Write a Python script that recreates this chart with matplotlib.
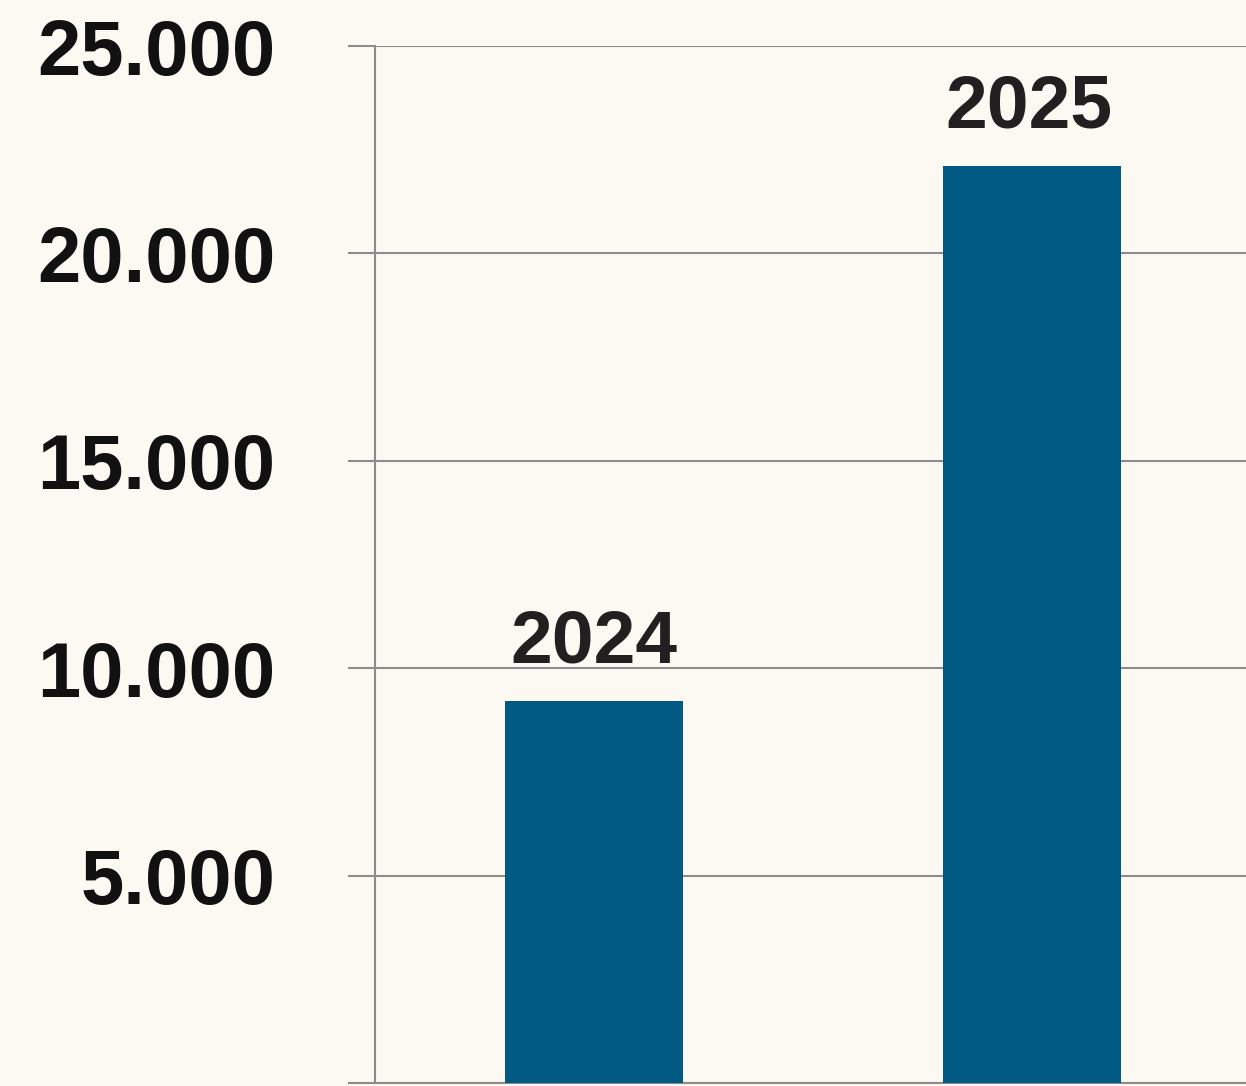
import matplotlib.pyplot as plt
from matplotlib.ticker import FuncFormatter

years = ['2024', '2025']
values = [9200, 22100]
yticks = [0, 5000, 10000, 15000, 20000, 25000]

bg = '#fbf9f2'
bar_col = '#005a84'
grid_col = '#8c8c8c'

W, H = 1246, 1086
fig = plt.figure(figsize=(W/100, H/100), dpi=100, facecolor=bg)
ax = fig.add_axes([375/W, 3/H, 876/W, 1037/H], facecolor=bg)

x = range(len(years))
ax.bar(x, values, width=0.405, color=bar_col, zorder=3)
for i, v in zip(x, values):
    ax.text(i - 0.008 * i, v + 580, years[i], ha='center', va='bottom', fontsize=54,
            fontweight='bold', family='Liberation Sans', color='#231f20', zorder=4)

ax.set_xlim(-0.5, 1.5)
ax.set_ylim(0, 25000)
ax.set_yticks(yticks)
# the 0 label sits below the crop in the original, so leave it blank
ax.yaxis.set_major_formatter(FuncFormatter(lambda v, p: '' if v == 0 else f'{int(v):,}'.replace(',', '.')))
ax.set_xticks([])
ax.grid(axis='y', color=grid_col, linewidth=1.5, zorder=0)
ax.tick_params(axis='y', length=19.5, width=1.5, color=grid_col, pad=52,
               labelsize=56)
for lab in ax.get_yticklabels():
    lab.set_fontweight('bold')
    lab.set_family('Liberation Sans')
    lab.set_color('#111111')

for s in ['top', 'right']:
    ax.spines[s].set_visible(False)
for s in ['left', 'bottom']:
    ax.spines[s].set_color(grid_col)
    ax.spines[s].set_linewidth(1.5)

fig.savefig('out.png', dpi=100, facecolor=bg)
